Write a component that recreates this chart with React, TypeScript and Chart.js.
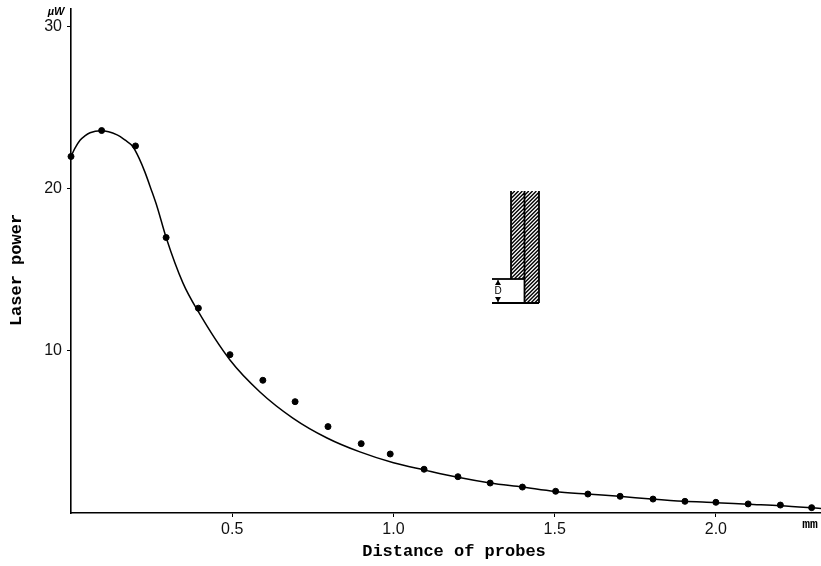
import React, { useEffect, useRef } from "react";
import { Chart, registerables } from "chart.js";

Chart.register(...registerables);

const pointX = [0, 0.095, 0.2, 0.295, 0.395, 0.493, 0.595, 0.695, 0.797, 0.9, 0.99, 1.095, 1.2, 1.3, 1.4, 1.503, 1.603, 1.703, 1.805, 1.904, 2.0, 2.1, 2.2, 2.297];
const pointY = [22.0, 23.6, 22.65, 17.0, 12.64, 9.77, 8.19, 6.87, 5.33, 4.28, 3.64, 2.7, 2.24, 1.85, 1.6, 1.34, 1.17, 1.03, 0.86, 0.72, 0.66, 0.56, 0.49, 0.33];
const curveX = [0, 0.012, 0.028, 0.043, 0.059, 0.093, 0.143, 0.167, 0.192, 0.211, 0.229, 0.248, 0.267, 0.295, 0.347, 0.394, 0.493, 0.586, 0.688, 0.794, 0.896, 1.0, 1.095, 1.2, 1.3, 1.4, 1.5, 1.6, 1.7, 1.8, 1.9, 2.0, 2.1, 2.2, 2.326];
const curveY = [22.0, 22.5, 23.0, 23.27, 23.46, 23.58, 23.33, 23.02, 22.6, 21.9, 21.05, 20.0, 18.9, 17.0, 14.2, 12.45, 9.44, 7.47, 5.86, 4.63, 3.77, 3.1, 2.66, 2.2, 1.85, 1.6, 1.33, 1.17, 1.03, 0.86, 0.72, 0.64, 0.54, 0.45, 0.28];
const xTicks = [0.5, 1.0, 1.5, 2.0];
const yTicks = [10, 20, 30];
const xTitle = "Distance of probes";
const yTitle = "Laser power";
const xUnit = "mm";
const yUnit = "µW";
const insetLabel = "D";

const ink = "#000000";

const annotations = {
  id: "annotations",
  afterDraw(chart: any) {
    const c = chart.ctx;
    c.save();
    c.fillStyle = ink;
    c.strokeStyle = ink;
    c.textBaseline = "middle";
    c.textAlign = "center";
    c.font = 'bold 17px "Liberation Mono"';
    c.fillText(xTitle, 454, 552);
    c.save();
    c.translate(17, 270);
    c.rotate(-Math.PI / 2);
    c.fillText(yTitle, 0, 0);
    c.restore();
    c.font = 'bold 13px "Liberation Mono"';
    c.fillText(xUnit, 810, 525);
    c.font = 'italic bold 11px "Liberation Sans"';
    c.fillText(yUnit, 56, 12);

    // hatched inset
    const strips = [
      [511, 191, 13, 88],
      [525, 191, 14, 112],
    ];
    strips.forEach(([x, y, w, h]) => {
      c.save();
      c.beginPath();
      c.rect(x, y, w, h);
      c.clip();
      c.lineWidth = 1.4;
      for (let d = -h; d < w + h; d += 3.8) {
        c.beginPath();
        c.moveTo(x + d, y + h);
        c.lineTo(x + d + h, y);
        c.stroke();
      }
      c.restore();
    });
    c.lineWidth = 1.8;
    const seg = (a: number, b: number, d: number, e: number) => {
      c.beginPath();
      c.moveTo(a, b);
      c.lineTo(d, e);
      c.stroke();
    };
    seg(511, 191, 511, 279);
    seg(524.5, 191, 524.5, 303);
    seg(539, 191, 539, 303);
    seg(492, 279, 524, 279);
    seg(492, 303, 539, 303);
    c.lineWidth = 1;
    seg(498, 280, 498, 285);
    seg(498, 297, 498, 302);
    c.beginPath();
    c.moveTo(498, 280); c.lineTo(495, 285); c.lineTo(501, 285); c.closePath();
    c.moveTo(498, 302); c.lineTo(495, 297); c.lineTo(501, 297); c.closePath();
    c.fill();
    c.font = '10px "Liberation Sans"';
    c.fillText(insetLabel, 498, 291);
    c.restore();
  },
};

export default function App() {
  const ref = useRef<HTMLCanvasElement>(null);
  useEffect(() => {
    document.body.style.margin = "0";
    document.body.style.background = "#ffffff";
    const chart = new Chart(ref.current!, {
      type: "scatter",
      plugins: [annotations],
      data: {
        datasets: [
          {
            label: "Fitted curve",
            data: curveX.map((x, i) => ({ x, y: curveY[i] })),
            showLine: true,
            borderColor: ink,
            borderWidth: 1.5,
            cubicInterpolationMode: "monotone",
            pointRadius: 0,
            clip: false,
          },
          {
            label: "Measured",
            data: pointX.map((x, i) => ({ x, y: pointY[i] })),
            showLine: false,
            backgroundColor: ink,
            borderColor: ink,
            pointRadius: 3,
            clip: false,
          },
        ],
      },
      options: {
        responsive: false,
        animation: false,
        layout: { autoPadding: false, padding: { top: 9, left: 0, right: 0, bottom: 0 } },
        plugins: { legend: { display: false }, tooltip: { enabled: false } },
        scales: {
          x: {
            type: "linear",
            min: 0,
            max: 2.326,
            afterBuildTicks: (s: any) => { s.ticks = xTicks.map((value) => ({ value })); },
            afterFit: (s: any) => { s.height = 53; s.paddingLeft = 0; s.paddingRight = 0; },
            border: { color: ink, width: 1.6 },
            grid: { display: true, drawOnChartArea: false, drawTicks: true, tickLength: 4, color: ink, lineWidth: 1 },
            ticks: {
              color: "#111111",
              font: { family: '"Liberation Sans"', size: 16 },
              padding: 3,
              maxRotation: 0,
              callback: (v: any) => Number(v).toFixed(1),
            },
          },
          y: {
            type: "linear",
            min: 0,
            max: 31.1,
            afterBuildTicks: (s: any) => { s.ticks = yTicks.map((value) => ({ value })); },
            afterFit: (s: any) => { s.width = 71; s.paddingTop = 0; s.paddingBottom = 0; },
            border: { color: ink, width: 1.6 },
            grid: { display: true, drawOnChartArea: false, drawTicks: true, tickLength: 4, color: ink, lineWidth: 1 },
            ticks: {
              color: "#111111",
              font: { family: '"Liberation Sans"', size: 16 },
              padding: 5,
              callback: (v: any) => String(v),
            },
          },
        },
      },
    });
    return () => chart.destroy();
  }, []);
  return <canvas ref={ref} width={821} height={566} style={{ display: "block" }} />;
}
